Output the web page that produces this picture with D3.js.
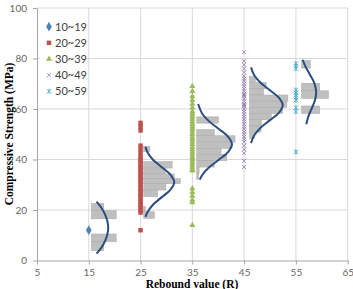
<!DOCTYPE html>
<html>
<head>
<meta charset="utf-8">
<script src="https://cdn.jsdelivr.net/npm/d3@7"></script>
<style>
  body { margin: 0; background: #fff; }
  svg { display: block; }
</style>
</head>
<body>
<div id="chart"></div>
<script>
// ---- data ----
const groups = ["10~19", "20~29", "30~39", "40~49", "50~59"];
const groupR = [15, 25, 35, 45, 55];
const colors = ["#4F81BD", "#C0504D", "#9BBB59", "#8064A2", "#4BACC6"];
const xTicks = [5, 15, 25, 35, 45, 55, 65];
const yTicks = [0, 20, 40, 60, 80, 100];

// compressive strength (MPa) of each specimen, per rebound group
const strength15 = [12];
const strength25 = [54.5, 53, 51.5, 45.5, 44, 42.5, 41, 40, 39, 38, 37, 36, 35, 34, 33, 32,
  31, 30, 29, 28, 27, 26, 25, 24, 23, 22, 21, 20, 19, 12];
const strength35 = [69, 67, 65, 63.5, 62, 60.5, 59, 58, 57, 56, 55, 54, 53, 52, 51, 50, 49,
  48, 47, 46, 45, 44, 43, 42, 41, 40, 39, 38, 37, 36, 35.5, 28.5, 27, 25.5, 24, 23, 14];
const strength45 = [82.5, 79, 77.5, 76, 74.5, 73, 72, 71, 70, 69, 68, 67, 66, 65.5, 65, 64,
  63, 62, 61.5, 61, 60, 59, 58, 57, 56, 55, 54, 53, 52, 51, 50, 49, 48, 47, 45.5, 44, 42.5, 39.5, 37];
const strength55 = [78, 77, 76, 67.5, 66.5, 65.5, 64.5, 63.5, 60.5, 59, 43];

// histogram baseline (R) for each group
const histBase = [15.5, 25.6, 35.85, 46.05, 56.1];
// histogram bars: [low MPa, high MPa, bar length in R units]
const hist15 = [[19.8, 22.6, 2.4], [16.5, 19.8, 4.8], [7.4, 10.5, 4.8], [3.9, 7.4, 2.4]];
const hist25 = [[43.1, 45.2, 1.2], [36.6, 39.2, 5.5], [34.3, 36.6, 4.2], [32.4, 34.3, 5.9],
  [30.4, 32.4, 7.1], [27.9, 30.4, 4.3], [25.3, 27.9, 2.7], [19.3, 21.5, 0.3], [16.7, 19.3, 2.1]];
const hist35 = [[54.4, 56.9, 4.2], [49.4, 51.9, 3.4], [46.9, 49.4, 7.4], [44.4, 46.9, 6.8],
  [42.0, 44.4, 4.7], [39.5, 42.0, 5.8], [37.0, 39.5, 3.4], [34.5, 37.0, 0.45], [32.0, 34.5, 0.35]];
const hist45 = [[70.45, 72.9, 1.1], [68.0, 70.45, 3.2], [65.55, 68.0, 2.7], [63.1, 65.55, 7.4],
  [60.65, 63.1, 7.2], [58.2, 60.65, 6.4], [55.75, 58.2, 4.2], [53.3, 55.75, 2.3],
  [50.85, 53.3, 2.2], [48.4, 50.85, 1.0]];
const hist55 = [[76.2, 79.2, 1.7], [67.2, 70.2, 3.5], [64.2, 67.2, 5.2], [58.2, 61.2, 3.5]];

// fitted curves: [MPa, offset from baseline in R units]
const curve15 = [[23.3, 1.0], [21, 1.9], [18, 2.7], [15.5, 3.1], [13, 3.25], [10.5, 3.1],
  [8, 2.7], [5, 1.9], [2.7, 1.0]];
const curve25 = [[45, 0.35], [43, 0.7], [40, 1.75], [37, 3.45], [34, 5.15], [31, 5.9],
  [28, 5.15], [25, 3.45], [22, 1.75], [19, 0.7], [17.3, 0.35]];
const curve35 = [[62, 0.27], [58, 1.11], [55, 2.45], [52, 4.32], [49, 6.07], [46, 6.8],
  [43, 6.07], [40, 4.32], [37, 2.45], [34, 1.11], [32, 0.58]];
const curve45 = [[76.5, 0.28], [73.5, 0.87], [70.5, 2.08], [67.5, 3.88], [64.5, 5.65],
  [61.5, 6.4], [58.5, 5.65], [55.5, 3.88], [52.5, 2.08], [49.5, 0.87], [46.5, 0.28]];
const curve55 = [[79.5, 0.2], [77, 0.7], [74, 1.5], [71, 2.3], [68, 2.75], [66, 2.8],
  [63, 2.5], [60, 1.9], [57, 1.3], [54, 0.9]];

const strengths = [strength15, strength25, strength35, strength45, strength55];
const hists = [hist15, hist25, hist35, hist45, hist55];
const curves = [curve15, curve25, curve35, curve45, curve55];

// ---- layout ----
const W = 353, H = 289;
const plot = { left: 37, right: 347.7, top: 8, bottom: 260.5 };

const svg = d3.select("#chart").append("svg")
  .attr("width", W)
  .attr("height", H);

const x = d3.scaleLinear().domain([5, 65]).range([plot.left, plot.right]);
const y = d3.scaleLinear().domain([0, 100]).range([plot.bottom, plot.top]);

// gridlines
svg.append("g").selectAll("line")
  .data(yTicks.slice(1))
  .join("line")
  .attr("x1", plot.left).attr("x2", plot.right)
  .attr("y1", d => y(d)).attr("y2", d => y(d))
  .attr("stroke", "#d9d9d9").attr("stroke-width", 1);

svg.append("g").selectAll("line")
  .data(xTicks.slice(1))
  .join("line")
  .attr("x1", d => x(d)).attr("x2", d => x(d))
  .attr("y1", plot.top).attr("y2", plot.bottom)
  .attr("stroke", "#d9d9d9").attr("stroke-width", 1);

// axes
const xAxis = svg.append("g")
  .attr("transform", `translate(0,${plot.bottom})`)
  .call(d3.axisBottom(x).tickValues(xTicks).tickSize(4).tickPadding(4).tickSizeOuter(0));
const yAxis = svg.append("g")
  .attr("transform", `translate(${plot.left},0)`)
  .call(d3.axisLeft(y).tickValues(yTicks).tickSize(4).tickPadding(6).tickSizeOuter(0));

[xAxis, yAxis].forEach(a => {
  a.select(".domain").attr("stroke", "#a6a6a6");
  a.selectAll(".tick line").attr("stroke", "#a6a6a6");
  a.selectAll(".tick text")
    .attr("fill", "#666")
    .style("font-family", "Lato, 'Open Sans', sans-serif")
    .style("font-size", "10px");
});

// histograms
hists.forEach((bins, i) => {
  const base = histBase[i];
  svg.append("g").selectAll("rect")
    .data(bins)
    .join("rect")
    .attr("x", x(base))
    .attr("y", d => y(d[1]))
    .attr("width", d => x(base + d[2]) - x(base))
    .attr("height", d => y(d[0]) - y(d[1]))
    .attr("fill", "#bfbfbf")
    .attr("stroke", "#a9a9a9")
    .attr("stroke-width", 0.5);
});

// fitted curves
curves.forEach((pts, i) => {
  const base = histBase[i];
  const line = d3.line()
    .x(d => x(base + d[1]))
    .y(d => y(d[0]))
    .curve(d3.curveCatmullRom);
  svg.append("path")
    .attr("d", line(pts))
    .attr("fill", "none")
    .attr("stroke", "#2b4d80")
    .attr("stroke-width", 2);
});

// marker shapes
const xMark = r => `M${-r},${-r}L${r},${r}M${-r},${r}L${r},${-r}`;
const starMark = r => `M${-r},${-r}L${r},${r}M${-r},${r}L${r},${-r}M0,${-r * 1.2}L0,${r * 1.2}`;
const markers = [
  { d: d3.symbol().type(d3.symbolDiamond).size(28)(), fill: true },
  { d: d3.symbol().type(d3.symbolSquare).size(20)(), fill: true },
  { d: d3.symbol().type(d3.symbolTriangle).size(16)(), fill: true },
  { d: xMark(2), fill: false },
  { d: starMark(2.2), fill: false }
];

function drawMarker(sel, i) {
  const m = markers[i];
  sel.attr("d", m.d)
    .attr("fill", m.fill ? colors[i] : "none")
    .attr("stroke", m.fill ? "none" : colors[i])
    .attr("stroke-width", m.fill ? 0 : 0.9)
    .attr("opacity", i === 3 ? 0.8 : 1);
}

// scatter points
strengths.forEach((vals, i) => {
  svg.append("g").selectAll("path")
    .data(vals)
    .join("path")
    .attr("transform", d => `translate(${x(groupR[i])},${y(d)})`)
    .call(drawMarker, i);
});

// legend
const legend = svg.append("g");
legend.append("rect")
  .attr("x", 40).attr("y", 17).attr("width", 46).attr("height", 82)
  .attr("fill", "#fff");
groups.forEach((g, i) => {
  const row = legend.append("g").attr("transform", `translate(49,${26.7 + i * 16.15})`);
  row.append("path").call(drawMarker, i);
  row.append("text")
    .attr("x", 6)
    .attr("dy", "0.35em")
    .attr("fill", "#404040")
    .style("font-family", "Lato, 'Open Sans', sans-serif")
    .style("font-size", "11px")
    .text(g);
});

// axis titles
svg.append("text")
  .attr("x", 192)
  .attr("y", 288)
  .attr("text-anchor", "middle")
  .style("font-family", "'Liberation Serif', 'Times New Roman', serif")
  .style("font-weight", "bold")
  .style("font-size", "11.5px")
  .attr("fill", "#000")
  .text("Rebound value (R)");

svg.append("text")
  .attr("transform", "translate(13,134) rotate(-90)")
  .attr("text-anchor", "middle")
  .style("font-family", "'Liberation Serif', 'Times New Roman', serif")
  .style("font-weight", "bold")
  .style("font-size", "11.5px")
  .attr("fill", "#000")
  .text("Compressive Strength (MPa)");
</script>
</body>
</html>
